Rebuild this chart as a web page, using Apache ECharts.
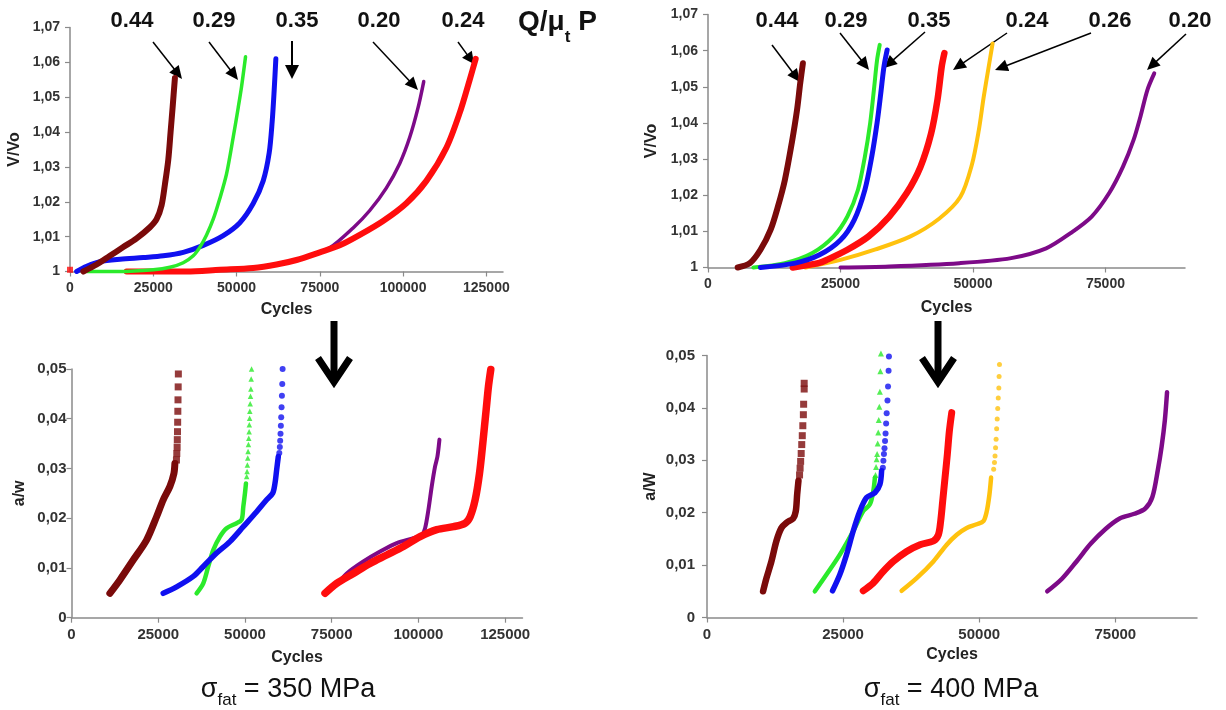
<!DOCTYPE html>
<html><head><meta charset="utf-8">
<script src="https://cdn.jsdelivr.net/npm/echarts@6/dist/echarts.min.js"></script>
<style>html,body{margin:0;padding:0;background:#fff}#c{width:1226px;height:710px}</style>
</head><body><div id="c"></div>
<script>
// ---------- tick labels ----------
const xTicksA = [0, 25000, 50000, 75000, 100000, 125000];
const xTicksB = [0, 25000, 50000, 75000];
const yTicksV = [1, 1.01, 1.02, 1.03, 1.04, 1.05, 1.06, 1.07];
const yTicksA = [0, 0.01, 0.02, 0.03, 0.04, 0.05];
const seriesLabelsL = ['0.44', '0.29', '0.35', '0.20', '0.24'];
const seriesLabelsR = ['0.44', '0.29', '0.35', '0.24', '0.26', '0.20'];

// ---------- top-left: V/Vo vs cycles, 350 MPa ----------
const tl_044 = [[4000,1.0],[8000,1.002],[12000,1.0045],[16000,1.007],[20000,1.0095],[24000,1.0127],[26000,1.015],[27500,1.019],[28500,1.025],[29500,1.032],[30200,1.040],[30800,1.047],[31500,1.0555]];
const tl_029 = [[5000,1.0],[15000,1.0],[25000,1.0005],[30000,1.0012],[34000,1.0025],[37000,1.0045],[39000,1.007],[41000,1.0105],[43000,1.015],[45000,1.021],[47000,1.028],[49000,1.0385],[50500,1.047],[51500,1.053],[52700,1.0616]];
const tl_035 = [[2000,1.0],[5000,1.0015],[9000,1.0028],[15000,1.0035],[22000,1.004],[28000,1.0045],[34000,1.0055],[40000,1.0075],[46000,1.0103],[51000,1.014],[55000,1.0195],[58000,1.026],[59800,1.034],[60700,1.043],[61300,1.052],[61800,1.061]];
const tl_020 = [[40000,1.0003],[55000,1.001],[65000,1.0027],[72000,1.0045],[78000,1.0068],[85000,1.0125],[90000,1.0175],[95000,1.024],[99000,1.031],[102000,1.0385],[104500,1.047],[106200,1.0545]];
const tl_024 = [[17000,1.0],[35000,1.0],[45000,1.0005],[55000,1.001],[62000,1.002],[68000,1.0033],[75000,1.0055],[81000,1.0075],[87000,1.0105],[94000,1.0145],[101000,1.0196],[107000,1.026],[113000,1.0355],[117000,1.0455],[120000,1.055],[121800,1.061]];
const tl_024_start = [[0,1.0005]];

// ---------- top-right: V/Vo vs cycles, 400 MPa ----------
const tr_044 = [[5600,1.0],[7900,1.0012],[9900,1.0049],[11800,1.0104],[13200,1.0169],[14500,1.0242],[15800,1.0344],[16800,1.0436],[17400,1.051],[17900,1.0565]];
const tr_029 = [[8550,1.0],[14500,1.0012],[19700,1.004],[23700,1.0086],[26300,1.0141],[28300,1.0215],[29600,1.0307],[30600,1.04],[31300,1.0491],[31900,1.0574],[32400,1.0616]];
const tr_035 = [[9900,1.0],[16450,1.0012],[21050,1.0035],[25000,1.0076],[27600,1.0132],[29600,1.0215],[30900,1.0307],[31900,1.04],[32600,1.0482],[33200,1.0556],[33800,1.0602]];
const tr_024 = [[16000,1.0],[21000,1.0013],[22400,1.0021],[26300,1.0049],[30300,1.0086],[34200,1.0141],[37500,1.0206],[40100,1.0279],[42100,1.0371],[43300,1.0464],[44100,1.0556],[44600,1.0593]];
const tr_026 = [[18400,1.0],[25000,1.0021],[31600,1.005],[38200,1.0086],[43600,1.0135],[47600,1.0195],[49800,1.0285],[51100,1.038],[52000,1.047],[52900,1.055],[53700,1.062]];
const tr_020 = [[25000,1.0],[34200,1.0003],[47400,1.0012],[57200,1.0026],[63800,1.0053],[68400,1.0095],[72400,1.0141],[75700,1.0206],[78300,1.0279],[80300,1.0353],[81600,1.0418],[82900,1.0491],[84200,1.0537]];

// ---------- bottom-left: a/w vs cycles, 350 MPa ----------
const bl_044 = [[11060,0.0049],[13940,0.0076],[17790,0.0116],[21630,0.0156],[24520,0.0203],[26440,0.0237],[28370,0.0264],[29520,0.029],[29800,0.031]];
const bl_044_tail = [[30250,0.0317],[30350,0.033],[30450,0.0343],[30500,0.0358],[30550,0.0374],[30600,0.0393],[30650,0.0415],[30700,0.0438],[30750,0.0464],[30800,0.049]];
const bl_029 = [[36060,0.0049],[37980,0.0069],[39420,0.0103],[40860,0.0136],[42790,0.0163],[44710,0.018],[47590,0.019],[49040,0.0197],[49520,0.0223],[50000,0.025],[50290,0.027]];
const bl_029_tail = [[50500,0.0284],[50600,0.0294],[50700,0.0307],[50800,0.0321],[50900,0.0334],[51000,0.0348],[51100,0.0361],[51200,0.0374],[51250,0.0388],[51350,0.0401],[51400,0.0415],[51500,0.043],[51600,0.0445],[51700,0.046],[51800,0.048],[51900,0.05]];
const bl_035 = [[26440,0.0049],[30290,0.0062],[35100,0.0083],[37980,0.0103],[41830,0.013],[45670,0.0153],[49520,0.0183],[53360,0.0213],[56250,0.0237],[57980,0.025],[58650,0.027],[59130,0.0297],[59610,0.0324]];
const bl_035_tail = [[59900,0.0331],[60050,0.0343],[60150,0.0356],[60250,0.037],[60350,0.0386],[60450,0.0403],[60550,0.0423],[60650,0.0446],[60750,0.047],[60850,0.05]];
const bl_020 = [[74000,0.0052],[77000,0.0071],[79330,0.0089],[84130,0.0113],[88940,0.0133],[93750,0.015],[98560,0.016],[100960,0.0166],[101920,0.018],[102880,0.0217],[103840,0.0264],[104800,0.0304],[105480,0.0324],[106060,0.0358]];
const bl_024 = [[73080,0.0049],[76440,0.0069],[81250,0.0089],[86060,0.0109],[90870,0.0126],[95670,0.0143],[100480,0.0163],[105290,0.0177],[110100,0.0183],[113460,0.019],[114900,0.0203],[116350,0.0237],[117600,0.029],[118560,0.0351],[119520,0.0418],[120190,0.0465],[120860,0.0499]];

// ---------- bottom-right: a/W vs cycles, 400 MPa ----------
const br_044 = [[10300,0.005],[10920,0.0075],[11830,0.0107],[12750,0.0146],[13670,0.0171],[14600,0.0181],[15820,0.0189],[16310,0.0203],[16560,0.0235],[16800,0.0261]];
const br_044_tail = [[17000,0.0272],[17100,0.0285],[17200,0.0298],[17300,0.0313],[17400,0.033],[17500,0.0347],[17600,0.0366],[17700,0.0387],[17750,0.0407],[17850,0.0436],[17850,0.0447]];
const br_029 = [[19810,0.005],[21950,0.0082],[24400,0.012],[26860,0.0165],[28700,0.0203],[29920,0.0216],[30540,0.0241],[30840,0.0267]];
const br_029_tail = [[30950,0.0272],[31050,0.0287],[31150,0.0302],[31250,0.0312],[31350,0.0332],[31450,0.0353],[31550,0.0377],[31650,0.0402],[31750,0.0431],[31850,0.047],[31950,0.0504]];
const br_035 = [[23060,0.0051],[24400,0.0082],[25630,0.012],[26860,0.0165],[28080,0.0203],[29310,0.0229],[30840,0.0238],[31760,0.0254],[32070,0.028]];
const br_035_tail = [[32300,0.0286],[32400,0.0299],[32500,0.0312],[32600,0.0323],[32700,0.0337],[32800,0.0351],[32900,0.037],[33000,0.039],[33150,0.0414],[33250,0.0441],[33350,0.0471],[33420,0.0498]];
const br_024 = [[28700,0.0051],[30540,0.0066],[32380,0.0088],[34220,0.0107],[36670,0.0126],[39120,0.0139],[41580,0.0146],[42500,0.0158],[42920,0.0184],[43290,0.0222],[43720,0.0267],[44150,0.0312],[44520,0.0356],[44950,0.0391]];
const br_026 = [[35750,0.0051],[38510,0.0075],[41580,0.0107],[44030,0.0139],[45870,0.0158],[47700,0.0171],[49540,0.0178],[50770,0.0184],[51390,0.0203],[51880,0.0235],[52180,0.0267]];
const br_026_tail = [[52650,0.0283],[52800,0.0296],[52900,0.0308],[53000,0.0324],[53100,0.034],[53200,0.036],[53300,0.0379],[53400,0.0399],[53500,0.0419],[53600,0.0438],[53650,0.046],[53720,0.0483]];
const br_020 = [[62500,0.005],[65200,0.0074],[67800,0.0106],[70500,0.0141],[73200,0.0169],[75800,0.0189],[78500,0.0198],[80500,0.0208],[81800,0.023],[82800,0.0281],[83500,0.0326],[84100,0.0377],[84500,0.043]];

// ---------- styling ----------
const C = {brown:'#7a0a0a', green:'#2bea2b', blue:'#1010f0', red:'#ff0d0d', purple:'#7d0a88', orange:'#ffc20e'};
const FONT = 'Liberation Sans, Arial, sans-serif';
const chart = echarts.init(document.getElementById('c'), null, {renderer:'canvas'});

const grids = [
  {left:70, top:27.5, width:433, height:244},
  {left:708, top:14.5, width:477, height:253},
  {left:71.5, top:369, width:451, height:248.7},
  {left:707, top:355.5, width:490, height:262}
];
function fmtComma(v){ return (v === 0 || v === 1) ? String(v) : v.toFixed(2).replace('.', ','); }
function xAxis(gi, max, ticks, fs, gap){
  return {type:'value', gridIndex:gi, min:0, max:max, interval:25000,
    name:'Cycles', nameLocation:'middle', nameGap:gap,
    nameTextStyle:{fontFamily:FONT, fontWeight:'bold', fontSize:16, color:'#222'},
    axisLine:{show:true, onZero:false, lineStyle:{color:'#8a8a8a', width:1.5}},
    axisTick:{show:true, inside:false, length:5, customValues:ticks, lineStyle:{color:'#8a8a8a', width:1.2}},
    axisLabel:{customValues:ticks, formatter:v=>String(v), fontFamily:FONT, fontWeight:'bold', fontSize:fs, color:'#333', margin:10},
    splitLine:{show:false}};
}
function yAxis(gi, min, max, ticks, name, fs, gap, margin){
  return {type:'value', gridIndex:gi, min:min, max:max, interval:0.01,
    name:name, nameLocation:'middle', nameGap:gap, nameRotate:90,
    nameTextStyle:{fontFamily:FONT, fontWeight:'bold', fontSize:16, color:'#222'},
    axisLine:{show:true, onZero:false, lineStyle:{color:'#8a8a8a', width:1.5}},
    axisTick:{show:true, inside:false, length:5, customValues:ticks, lineStyle:{color:'#8a8a8a', width:1.2}},
    axisLabel:{customValues:ticks, formatter:fmtComma, fontFamily:FONT, fontWeight:'bold', fontSize:fs, color:'#333', margin:margin},
    splitLine:{show:false}};
}
function line(data, gi, color, width, z){
  return {type:'line', xAxisIndex:gi, yAxisIndex:gi, data:data, showSymbol:false, symbol:'none',
    smooth:0.3, clip:false, silent:true, z:z||2,
    lineStyle:{color:color, width:width, cap:'round', join:'round'}};
}
function dots(data, gi, color, symbol, size, z){
  return {type:'scatter', xAxisIndex:gi, yAxisIndex:gi, data:data, symbol:symbol, symbolSize:size,
    clip:false, silent:true, z:z||3, itemStyle:{color:color}};
}

const series = [
  // top-left
  line(tl_020, 0, C.purple, 3.5, 2),
  line(tl_024, 0, C.red, 6, 3),
  dots(tl_024_start, 0, C.red, 'rect', 6),
  line(tl_035, 0, C.blue, 5, 2),
  line(tl_029, 0, C.green, 3.5, 3),
  line(tl_044, 0, C.brown, 6, 4),
  // top-right
  line(tr_020, 1, C.purple, 4, 2),
  line(tr_026, 1, C.orange, 4, 2),
  line(tr_024, 1, C.red, 6.5, 3),
  line(tr_029, 1, C.green, 4, 3),
  line(tr_035, 1, C.blue, 5, 4),
  line(tr_044, 1, C.brown, 6, 4),
  // bottom-left
  line(bl_044, 2, C.brown, 7, 3),
  dots(bl_044_tail, 2, C.brown, 'rect', 7),
  line(bl_029, 2, C.green, 4.5, 3),
  dots(bl_029_tail, 2, C.green, 'triangle', 5.5),
  line(bl_035, 2, C.blue, 5.5, 4),
  dots(bl_035_tail, 2, C.blue, 'circle', 6),
  line(bl_020, 2, C.purple, 4, 2),
  line(bl_024, 2, C.red, 7.5, 3),
  // bottom-right
  line(br_044, 3, C.brown, 6.5, 3),
  dots(br_044_tail, 3, C.brown, 'rect', 7),
  line(br_029, 3, C.green, 4.5, 3),
  dots(br_029_tail, 3, C.green, 'triangle', 6),
  line(br_035, 3, C.blue, 5.5, 4),
  dots(br_035_tail, 3, C.blue, 'circle', 6),
  line(br_024, 3, C.red, 7, 3),
  line(br_026, 3, C.orange, 4.5, 3),
  dots(br_026_tail, 3, C.orange, 'circle', 5),
  line(br_020, 3, C.purple, 4.5, 3)
];

// ---------- annotations ----------
const ctx = document.createElement('canvas').getContext('2d');
function tw(text, size, weight){ ctx.font = (weight||'normal') + ' ' + size + 'px ' + FONT; return ctx.measureText(text).width; }
function txt(x, y, text, size, weight, align){
  return {type:'text', x:x, y:y, silent:true, style:{text:text, fontFamily:FONT, fontSize:size, fontWeight:weight||'normal',
    fill:'#111', align:align||'left', verticalAlign:'middle'}};
}
function arrow(x1, y1, x2, y2, w, hl, hw){
  const dx = x2-x1, dy = y2-y1, L = Math.hypot(dx, dy), ux = dx/L, uy = dy/L;
  const bx = x2-ux*hl, by = y2-uy*hl, nx = -uy, ny = ux;
  return [
    {type:'line', silent:true, shape:{x1:x1, y1:y1, x2:bx+ux*1, y2:by+uy*1}, style:{stroke:'#000', lineWidth:w}},
    {type:'polygon', silent:true, shape:{points:[[x2,y2],[bx+nx*hw, by+ny*hw],[bx-nx*hw, by-ny*hw]]}, style:{fill:'#000'}}
  ];
}
function bigArrow(x, y1, y2){
  return [
    {type:'line', silent:true, shape:{x1:x, y1:y1, x2:x, y2:y2-4}, style:{stroke:'#000', lineWidth:7}},
    {type:'polyline', silent:true, shape:{points:[[x-16, y2-27],[x, y2-3],[x+16, y2-27]]}, style:{stroke:'#000', lineWidth:7, lineJoin:'miter', fill:null}}
  ];
}
function sigma(cx, cy, val){
  const a = 'σ', b = 'fat', c = ' = ' + val + ' MPa';
  const wa = tw(a, 27), wb = tw(b, 17), wc = tw(c, 27);
  const total = wa + wb + wc; let x = cx - total/2;
  const out = [txt(x, cy, a, 27)]; x += wa;
  out.push(txt(x, cy + 10, b, 17)); x += wb;
  out.push(txt(x, cy, c, 27));
  return out;
}
const gfx = [];
const labelPosL = [132, 214, 297, 379, 463];
const labelPosR = [777, 846, 929, 1027, 1110, 1190];
seriesLabelsL.forEach((s, i) => gfx.push(txt(labelPosL[i], 21, s, 22, 'bold', 'center')));
seriesLabelsR.forEach((s, i) => gfx.push(txt(labelPosR[i], 21, s, 22, 'bold', 'center')));
// Q/mu_t P
{
  let x = 518; const w1 = tw('Q/μ', 28, 'bold');
  gfx.push(txt(x, 22, 'Q/μ', 28, 'bold')); x += w1;
  gfx.push(txt(x, 37, 't', 17, 'bold')); x += tw('t', 17, 'bold') + 8;
  gfx.push(txt(x, 22, 'P', 28, 'bold'));
}
// small arrows, top-left
gfx.push(...arrow(153,42,182,79,1.5,13,6));
gfx.push(...arrow(209,42,238,80,1.5,13,6));
gfx.push(...arrow(292,41,292,79,2,14,7));
gfx.push(...arrow(373,42,418,90,1.5,13,6));
gfx.push(...arrow(458,42,474,64,1.5,12,6));
// small arrows, top-right
gfx.push(...arrow(772,45,800,82,1.5,13,6));
gfx.push(...arrow(840,33,869,70,1.5,13,6));
gfx.push(...arrow(925,32,884,68,1.5,13,6));
gfx.push(...arrow(1007,33,953,70,1.5,13,6));
gfx.push(...arrow(1091,33,995,70,1.5,13,6));
gfx.push(...arrow(1186,34,1147,70,1.5,13,6));
// big arrows between rows
gfx.push(...bigArrow(334, 321, 385));
gfx.push(...bigArrow(938, 321, 385));
// sigma captions
gfx.push(...sigma(288, 690, '350'));
gfx.push(...sigma(951, 690, '400'));

chart.setOption({
  animation:false,
  backgroundColor:'#fff',
  grid: grids,
  xAxis: [xAxis(0,130000,xTicksA,14,30), xAxis(1,90000,xTicksB,14,32), xAxis(2,130000,xTicksA,15,32), xAxis(3,90000,xTicksB,15,29)],
  yAxis: [yAxis(0,1,1.07,yTicksV,'V/Vo',14,47,10), yAxis(1,1,1.07,yTicksV,'V/Vo',14,48,10), yAxis(2,0,0.05,yTicksA,'a/w',15,44,5), yAxis(3,0,0.05,yTicksA,'a/W',15,48,12)],
  series: series,
  graphic: gfx
});
</script></body></html>
